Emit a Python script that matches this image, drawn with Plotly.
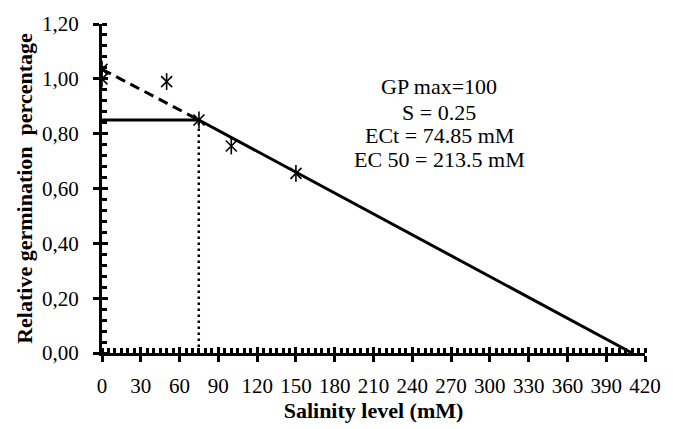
import plotly.graph_objects as go

# ---- data ----
obs_x = [0, 0, 50, 75, 100, 150]
obs_y = [1.00, 1.035, 0.99, 0.85, 0.755, 0.655]

fit_x = [0, 74.85, 410]
fit_y = [0.85, 0.85, 0.0]

dash_x = [0, 74.85]
dash_y = [1.035, 0.85]

ect_x = [74.85, 74.85]
ect_y = [0.0, 0.85]

x_ticks = list(range(0, 421, 30))
y_ticks = [0.0, 0.2, 0.4, 0.6, 0.8, 1.0, 1.2]
y_tick_labels = ["0,00", "0,20", "0,40", "0,60", "0,80", "1,00", "1,20"]

notes = ["GP max=100", "S = 0.25", "ECt = 74.85 mM", "EC 50 = 213.5 mM"]
note_y = [0.972, 0.879, 0.793, 0.707]
note_x = 261

FONT = "Liberation Serif"

fig = go.Figure()
fig.add_trace(go.Scatter(x=ect_x, y=ect_y, mode="lines",
                         line=dict(color="black", width=2.5, dash="2.5px,3.5px"),
                         showlegend=False))
fig.add_trace(go.Scatter(x=dash_x, y=dash_y, mode="lines",
                         line=dict(color="black", width=3, dash="10px,6px"),
                         showlegend=False))
fig.add_trace(go.Scatter(x=fit_x, y=fit_y, mode="lines",
                         line=dict(color="black", width=3),
                         showlegend=False))
fig.add_trace(go.Scatter(x=obs_x, y=obs_y, mode="markers",
                         marker=dict(symbol="x-thin-open", size=11, color="black",
                                     line=dict(color="black", width=1.6)),
                         showlegend=False))
fig.add_trace(go.Scatter(x=obs_x, y=obs_y, mode="markers",
                         marker=dict(symbol="line-ns-open", size=12, color="black",
                                     line=dict(color="black", width=1.6)),
                         showlegend=False))

for t, yy in zip(notes, note_y):
    fig.add_annotation(x=note_x, y=yy, xref="x", yref="y", text=t,
                       showarrow=False, xanchor="center", yanchor="middle",
                       font=dict(family=FONT, size=22, color="black"))

axis_common = dict(showgrid=False, zeroline=False, linecolor="black",
                   linewidth=3, ticks="outside", ticklen=6, tickwidth=3,
                   tickcolor="black", mirror=False, ticklabeloverflow="allow",
                   tickfont=dict(family=FONT, size=21, color="black"))

fig.update_layout(
    width=673, height=429,
    margin=dict(l=102, r=19, t=14, b=67),
    plot_bgcolor="white", paper_bgcolor="white",
    xaxis=dict(range=[0, 420], tickvals=x_ticks, ticklabelstandoff=6,
               minor=dict(ticks="inside", dtick=5, tick0=0, ticklen=5,
                          tickwidth=2.5, tickcolor="black"),
               title=dict(text="<b>Salinity level (mM)</b>", standoff=3,
                          font=dict(family=FONT, size=22, color="black")),
               **axis_common),
    yaxis=dict(range=[0, 1.2], tickvals=y_ticks, ticktext=y_tick_labels,
               ticklabelstandoff=10,
               minor=dict(ticks="inside", dtick=0.04, tick0=0, ticklen=5,
                          tickwidth=2.5, tickcolor="black"),
               title=dict(text="<b>Relative germination  percentage</b>",
                          standoff=4,
                          font=dict(family=FONT, size=22, color="black")),
               **axis_common),
    xaxis2=dict(range=[0, 420], overlaying="x", tickvals=x_ticks,
                showticklabels=False, showline=False, showgrid=False,
                zeroline=False, ticks="inside", ticklen=6, tickwidth=3,
                tickcolor="black", side="bottom", anchor="y"),
    yaxis2=dict(range=[0, 1.2], overlaying="y", tickvals=y_ticks,
                showticklabels=False, showline=False, showgrid=False,
                zeroline=False, ticks="inside", ticklen=6, tickwidth=3,
                tickcolor="black", side="left", anchor="x"),
)
# invisible trace so the overlay axes (crossing major ticks) are drawn
fig.add_trace(go.Scatter(x=[0], y=[0], xaxis="x2", yaxis="y2", mode="markers",
                         marker=dict(opacity=0), showlegend=False,
                         hoverinfo="skip"))

# remove the default 8px page margin so the figure fills the window exactly
fig.write_html("out.html",
               config={"displayModeBar": False},
               post_script="document.body.style.margin='0px';"
                           "document.body.style.overflow='hidden';")
